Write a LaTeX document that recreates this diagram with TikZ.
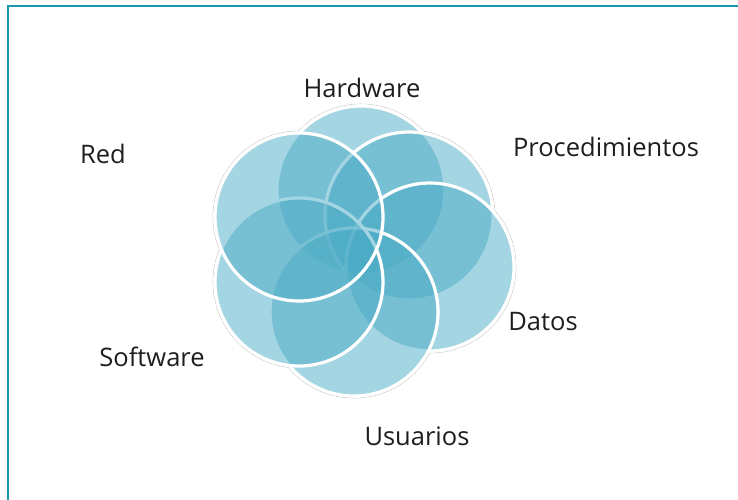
\documentclass[tikz,border=0pt]{standalone}
\usepackage{fontspec}
\setmainfont{Open Sans}
\definecolor{petal}{RGB}{75,172,198}
\definecolor{frameteal}{RGB}{24,152,170}
\definecolor{labeltext}{RGB}{30,30,30}
\begin{document}
\begin{tikzpicture}[x=1pt,y=-1pt,
  petalring/.style={draw=black!22, line width=0.6pt},
  petalback/.style={fill=white},
  petalfill/.style={fill=petal, fill opacity=0.5, draw=white, line width=3.2pt},
  lbl/.style={font=\fontsize{25.5}{30}\selectfont, text=labeltext, inner sep=0pt}]
\useasboundingbox (0,0) rectangle (738,500);
% frame
\draw[frameteal, line width=2.2pt] (8,500) -- (8,6) -- (738,6);
% petals
\def\petals{361/190/hw, 409/216/pr, 430/267/da, 354/312/us, 299/282/so, 299/217/re}
\foreach \x/\y/\n in \petals {
  \draw[petalring] (\x,\y) circle[radius=86pt];
}
\foreach \x/\y/\n in \petals {
  \fill[petalback] (\x,\y) circle[radius=85.5pt];
}
\foreach \x/\y/\n in \petals {
  \path[petalfill] (\x,\y) circle[radius=84pt];
  \coordinate (\n) at (\x,\y);
}
% labels
\node[lbl] (lhw) at (362,88) {Hardware};
\node[lbl] (lpr) at (606,147) {Procedimientos};
\node[lbl] (lre) at (103,154) {Red};
\node[lbl] (lda) at (543,322) {Datos};
\node[lbl] (lso) at (152,357) {Software};
\node[lbl] (lus) at (417,436) {Usuarios};
\end{tikzpicture}
\end{document}
